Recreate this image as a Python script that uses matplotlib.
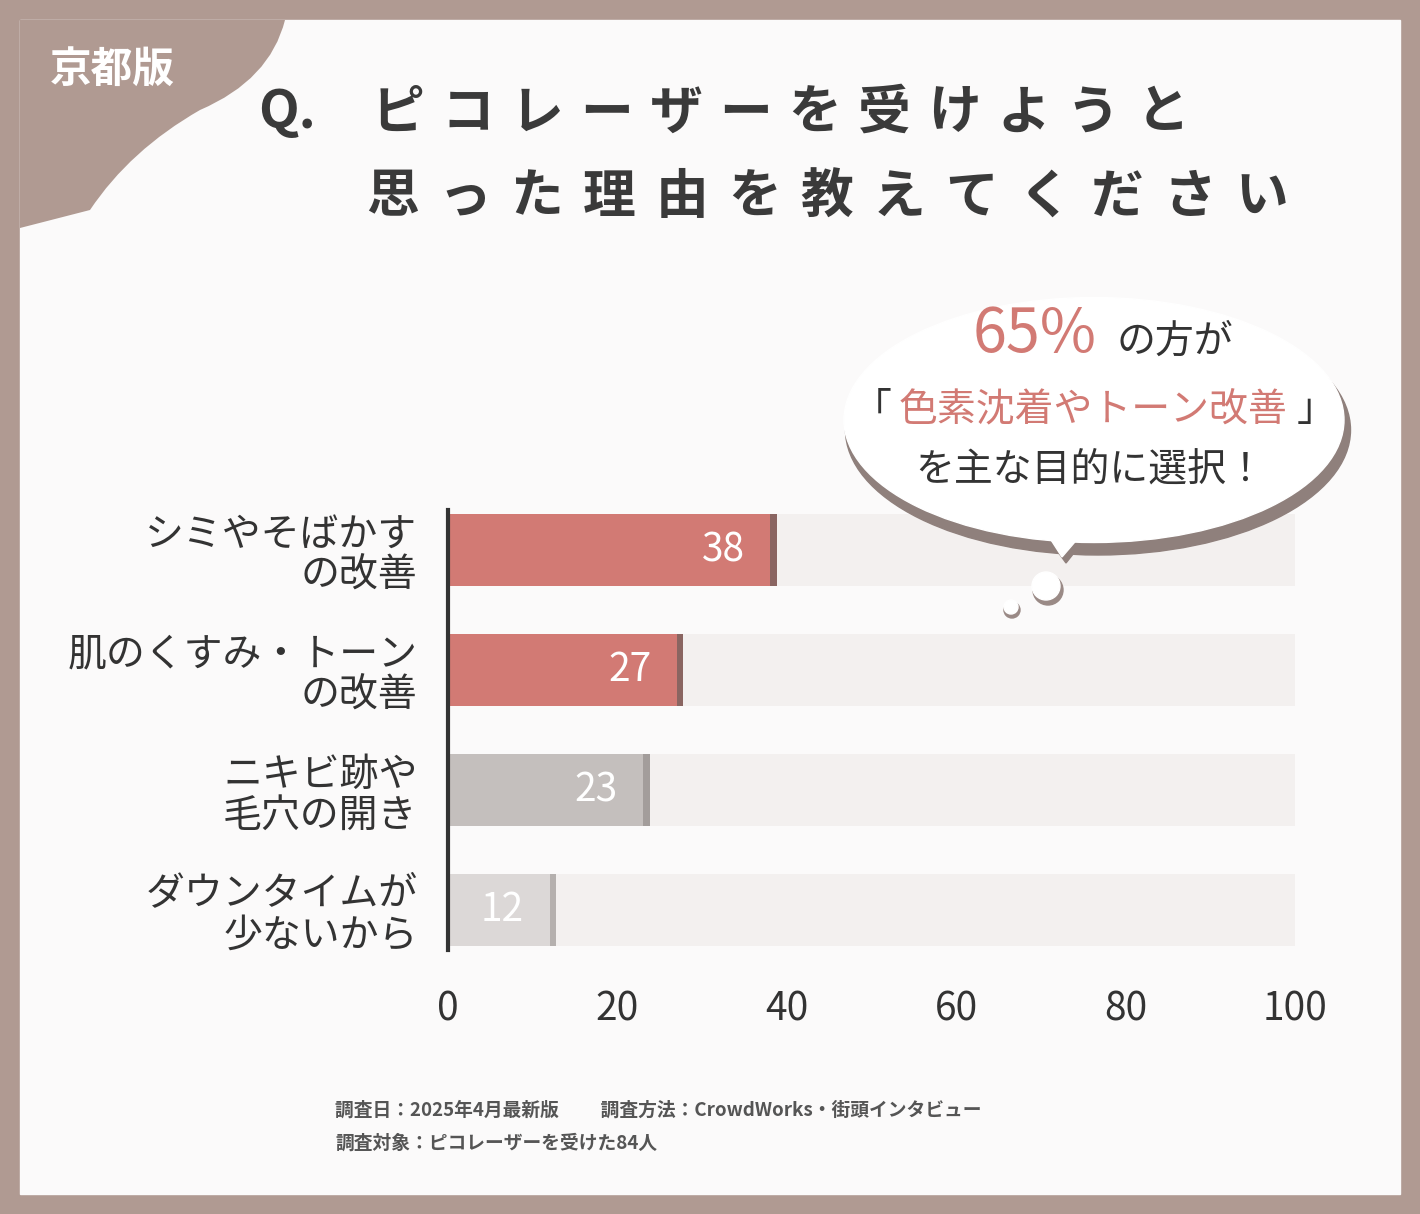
import matplotlib.pyplot as plt
import matplotlib.patches as mpatches
from matplotlib.path import Path

plt.rcParams['font.family'] = 'Noto Sans CJK JP'

categories = ['シミやそばかす\nの改善', '肌のくすみ・トーン\nの改善', 'ニキビ跡や\n毛穴の開き', 'ダウンタイムが\n少ないから']
values = [38, 27, 23, 12]
bar_colors = ['#d27a74', '#d27a74', '#c4bfbd', '#dcd8d7']
shadow_colors = ['#8a6561', '#8a6561', '#a39d9b', '#b5b0ae']
ticks = [0, 20, 40, 60, 80, 100]
title1 = 'ピコレーザーを受けようと'
title2 = '思った理由を教えてください'

W, H = 1420, 1214
fig = plt.figure(figsize=(W / 100, H / 100), dpi=100)
fig.patch.set_facecolor('#b09a92')

# background in pixel coords
bg = fig.add_axes([0, 0, 1, 1])
bg.set_xlim(0, W)
bg.set_ylim(H, 0)
bg.axis('off')
bg.add_patch(mpatches.Rectangle((20, 20), 1380, 1174, color='#fbfafa', zorder=0))

verts = [(20, 20), (285, 20), (270, 80), (200, 110), (130, 150), (90, 210), (20, 228), (20, 20)]
codes = [Path.MOVETO, Path.LINETO, Path.CURVE3, Path.CURVE3, Path.CURVE3, Path.CURVE3, Path.LINETO, Path.CLOSEPOLY]
bg.add_patch(mpatches.PathPatch(Path(verts, codes), color='#b09a92', lw=0, zorder=1))
bg.text(112, 70, '京都版', fontsize=30, color='white', ha='center', va='center', fontweight='bold')

# title, wide letter spacing
bg.text(258, 113, 'Q.', fontsize=38, color='#3a3a3a', ha='left', va='center', fontweight='bold')
for i, ch in enumerate(title1):
    bg.text(398 + i * 69.5, 113, ch, fontsize=38, color='#3a3a3a', ha='center', va='center', fontweight='bold')
for i, ch in enumerate(title2):
    bg.text(392 + i * 72.5, 197, ch, fontsize=38, color='#3a3a3a', ha='center', va='center', fontweight='bold')

bg.text(335, 1110, '調査日：2025年4月最新版　　 調査方法：CrowdWorks・街頭インタビュー',
        fontsize=13.5, color='#555555', ha='left', va='center', fontweight='bold')
bg.text(335, 1143, '調査対象：ピコレーザーを受けた84人',
        fontsize=13.5, color='#555555', ha='left', va='center', fontweight='bold')

# bar chart
ax = fig.add_axes([448 / W, 1 - 970 / H, 847 / W, 480 / H])
ax.patch.set_alpha(0)
ypos = [3, 2, 1, 0]
ax.barh(ypos, [100] * 4, height=0.6, color='#e6e2e1', left=0.4)
ax.barh(ypos, [100] * 4, height=0.6, color='#f3f0ef')
ax.barh(ypos, [v + 0.8 for v in values], height=0.6, color=shadow_colors)
ax.barh(ypos, values, height=0.6, color=bar_colors)
for y, v in zip(ypos, values):
    ax.text(v - 3, y, str(v), fontsize=28, color='white', ha='right', va='center')
ax.set_xlim(0, 100)
ax.set_ylim(-0.5, 3.5)
ax.set_yticks(ypos)
ax.set_yticklabels(categories, fontsize=28, color='#333333', linespacing=1.05)
ax.set_xticks(ticks)
ax.set_xticklabels([str(t) for t in ticks], fontsize=28, color='#333333')
ax.tick_params(length=0, pad=14)
ax.tick_params(axis='y', pad=22)
for s in ['top', 'right', 'bottom']:
    ax.spines[s].set_visible(False)
ax.spines['left'].set_color('#333333')
ax.spines['left'].set_linewidth(3)
ax.spines['left'].set_bounds(-0.33, 3.33)

# speech bubble on top of everything
top = fig.add_axes([0, 0, 1, 1])
top.set_xlim(0, W)
top.set_ylim(H, 0)
top.axis('off')
top.patch.set_alpha(0)
top.add_patch(mpatches.Ellipse((1098, 430), 505, 250, color='#8f807c', zorder=2))
top.add_patch(mpatches.Polygon([(1035, 520), (1100, 520), (1066, 563)], color='#8f807c', zorder=2))
top.add_patch(mpatches.Ellipse((1094, 420), 500, 245, color='white', zorder=3))
top.add_patch(mpatches.Polygon([(1035, 515), (1098, 515), (1062, 557)], color='white', zorder=3))
top.add_patch(mpatches.Circle((1048, 590), 15, color='#9a8a86', zorder=3))
top.add_patch(mpatches.Circle((1046, 586), 14, color='white', zorder=4))
top.add_patch(mpatches.Circle((1012, 610), 8, color='#9a8a86', zorder=3))
top.add_patch(mpatches.Circle((1011, 607), 7, color='white', zorder=4))
top.text(1035, 335, '65%', fontsize=44, color='#d27a74', ha='center', va='center', zorder=5)
top.text(1175, 342, 'の方が', fontsize=28, color='#333333', ha='center', va='center', zorder=5)
top.text(872, 410, '「', fontsize=28, color='#333333', ha='center', va='center', zorder=5)
top.text(1093, 410, '色素沈着やトーン改善', fontsize=28, color='#d27a74', ha='center', va='center', zorder=6)
top.text(1316, 410, '」', fontsize=28, color='#333333', ha='center', va='center', zorder=5)
top.text(1090, 470, 'を主な目的に選択！', fontsize=28, color='#333333', ha='center', va='center', zorder=5)

fig.savefig('out.png', dpi=100)
